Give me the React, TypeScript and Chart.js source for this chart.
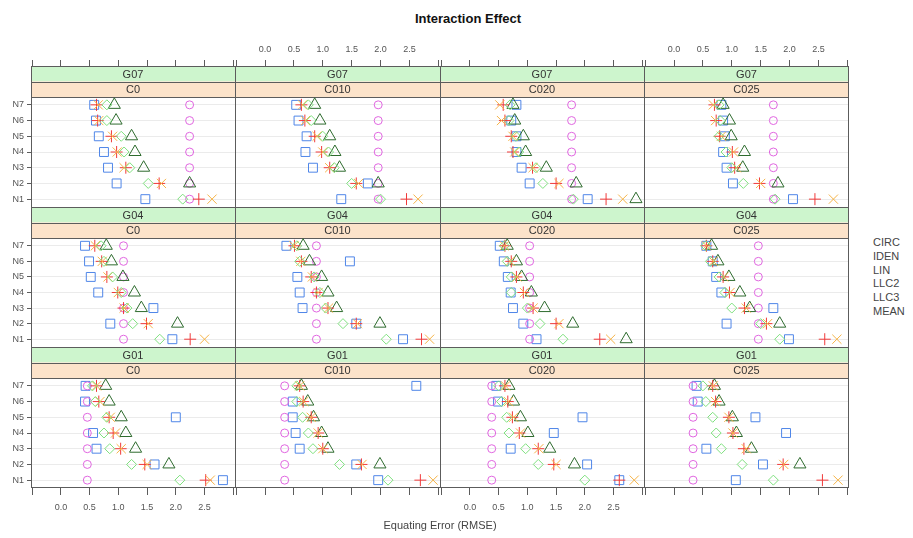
import React, { useEffect, useRef } from "react";
import { Chart, registerables } from "chart.js";
Chart.register(...registerables);

// ---------- categories ----------
const GROUPS = ["G07", "G04", "G01"];
const CONDITIONS = ["C0", "C010", "C020", "C025"];
const LEVELS = ["N1", "N2", "N3", "N4", "N5", "N6", "N7"];
const SERIES = ["CIRC", "IDEN", "LIN", "LLC2", "LLC3", "MEAN"];
const X_TICKS = [-0.5, 0, 0.5, 1, 1.5, 2, 2.5, 3];
const X_LABELED = [0, 0.5, 1, 1.5, 2, 2.5];

// ---------- values: rows = C0, C010, C020, C025 ; columns = N1..N7 ----------
const CIRC_G07 = [
  [1.47, 0.97, 0.82, 0.75, 0.66, 0.61, 0.58],
  [1.32, 1.78, 0.83, 0.70, 0.72, 0.58, 0.54],
  [2.05, 1.04, 0.90, 0.81, 0.81, 0.72, 0.81],
  [2.06, 1.02, 0.91, 0.85, 0.88, 0.85, 0.82],
];
const IDEN_G07 = [
  [2.24, 2.24, 2.24, 2.24, 2.24, 2.24, 2.24],
  [1.96, 1.96, 1.96, 1.96, 1.96, 1.96, 1.96],
  [1.77, 1.77, 1.77, 1.77, 1.77, 1.77, 1.77],
  [1.72, 1.72, 1.72, 1.72, 1.72, 1.72, 1.72],
];
const LIN_G07 = [
  [3.2, 2.24, 1.44, 1.29, 1.23, 0.96, 0.93],
  [3.2, 1.96, 1.29, 1.21, 1.12, 0.95, 0.86],
  [2.89, 1.85, 1.33, 0.97, 0.93, 0.78, 0.75],
  [3.2, 1.80, 1.19, 1.22, 0.99, 0.96, 0.85],
];
const LLC2_G07 = [
  [2.40, 1.71, 1.13, 0.97, 0.88, 0.64, 0.62],
  [2.45, 1.58, 1.12, 0.98, 0.86, 0.69, 0.63],
  [2.37, 1.50, 1.09, 0.75, 0.72, 0.61, 0.58],
  [2.44, 1.48, 1.05, 1.01, 0.79, 0.73, 0.70],
];
const LLC3_G07 = [
  [2.63, 1.75, 1.10, 0.98, 0.90, 0.66, 0.65],
  [2.65, 1.62, 1.12, 1.00, 0.90, 0.70, 0.65],
  [2.66, 1.55, 1.10, 0.78, 0.75, 0.55, 0.52],
  [2.76, 1.50, 1.08, 1.03, 0.82, 0.72, 0.68],
];
const MEAN_G07 = [
  [2.12, 1.52, 1.20, 1.10, 1.05, 0.80, 0.80],
  [2.00, 1.50, 1.20, 1.10, 1.00, 0.80, 0.75],
  [1.80, 1.27, 1.15, 0.85, 0.80, 0.68, 0.70],
  [1.75, 1.20, 1.00, 0.90, 0.78, 0.80, 0.78],
];

const CIRC_G04 = [
  [1.94, 0.86, 1.61, 0.65, 0.52, 0.49, 0.42],
  [2.39, 1.58, 0.65, 0.60, 0.56, 1.47, 0.37],
  [1.16, 0.93, 0.75, 0.71, 0.66, 0.59, 0.52],
  [1.99, 0.91, 1.72, 0.82, 0.73, 0.67, 0.56],
];
const IDEN_G04 = [
  [1.09, 1.09, 1.09, 1.09, 1.09, 1.09, 1.09],
  [0.89, 0.89, 0.89, 0.89, 0.89, 0.89, 0.89],
  [1.04, 1.04, 1.04, 1.04, 1.04, 1.04, 1.04],
  [1.46, 1.46, 1.46, 1.46, 1.46, 1.46, 1.46],
];
const LIN_G04 = [
  [3.2, 2.03, 1.40, 1.28, 1.08, 0.88, 0.79],
  [3.2, 1.99, 1.24, 1.09, 0.98, 0.77, 0.66],
  [2.72, 1.79, 1.30, 1.07, 0.90, 0.81, 0.65],
  [3.2, 1.83, 1.31, 1.14, 0.95, 0.76, 0.65],
];
const LLC2_G04 = [
  [2.25, 1.49, 1.09, 0.99, 0.80, 0.71, 0.59],
  [2.71, 1.58, 1.09, 0.89, 0.80, 0.63, 0.51],
  [2.26, 1.50, 1.10, 0.93, 0.81, 0.72, 0.61],
  [2.61, 1.60, 1.22, 0.96, 0.85, 0.67, 0.56],
];
const LLC3_G04 = [
  [2.50, 1.52, 1.10, 1.00, 0.82, 0.72, 0.60],
  [2.85, 1.60, 1.10, 0.92, 0.82, 0.62, 0.50],
  [2.45, 1.55, 1.10, 0.95, 0.82, 0.70, 0.60],
  [2.82, 1.62, 1.25, 0.97, 0.86, 0.68, 0.56],
];
const MEAN_G04 = [
  [1.72, 1.25, 1.15, 1.05, 0.90, 0.75, 0.70],
  [2.10, 1.35, 1.05, 0.95, 0.85, 0.60, 0.55],
  [1.62, 1.22, 1.00, 0.72, 0.72, 0.65, 0.60],
  [1.83, 1.50, 1.00, 0.88, 0.78, 0.63, 0.55],
];

const CIRC_G01 = [
  [2.82, 1.63, 0.62, 0.56, 2.00, 0.42, 0.43],
  [1.96, 1.58, 0.60, 0.53, 0.48, 0.48, 2.62],
  [2.60, 2.04, 0.71, 1.46, 1.96, 0.49, 0.46],
  [1.07, 1.54, 0.56, 1.94, 1.41, 0.41, 0.39],
];
const IDEN_G01 = [
  [0.46, 0.46, 0.46, 0.46, 0.46, 0.46, 0.46],
  [0.34, 0.34, 0.34, 0.34, 0.34, 0.34, 0.34],
  [0.38, 0.38, 0.38, 0.38, 0.38, 0.38, 0.38],
  [0.33, 0.33, 0.33, 0.33, 0.33, 0.33, 0.33],
];
const LIN_G01 = [
  [3.2, 1.88, 1.30, 1.13, 1.05, 0.84, 0.78],
  [3.2, 1.99, 1.09, 0.98, 0.84, 0.74, 0.63],
  [3.2, 1.82, 1.39, 1.01, 0.88, 0.76, 0.68],
  [3.2, 2.18, 1.34, 1.08, 1.01, 0.78, 0.70],
];
const LLC2_G01 = [
  [2.52, 1.46, 1.04, 0.91, 0.84, 0.66, 0.62],
  [2.69, 1.67, 1.00, 0.92, 0.80, 0.66, 0.60],
  [2.60, 1.46, 1.19, 0.86, 0.74, 0.66, 0.61],
  [2.57, 1.89, 1.21, 1.02, 0.95, 0.72, 0.67],
];
const LLC3_G01 = [
  [2.60, 1.50, 1.05, 0.95, 0.86, 0.68, 0.62],
  [2.91, 1.68, 1.00, 0.92, 0.80, 0.67, 0.60],
  [2.86, 1.50, 1.20, 0.88, 0.76, 0.67, 0.62],
  [2.84, 1.90, 1.25, 1.02, 0.95, 0.72, 0.68],
];
const MEAN_G01 = [
  [2.07, 1.23, 0.85, 0.75, 0.80, 0.60, 0.55],
  [2.13, 1.29, 0.83, 0.75, 0.65, 0.55, 0.55],
  [2.00, 1.19, 0.97, 0.68, 0.64, 0.55, 0.50],
  [1.72, 1.18, 0.82, 0.73, 0.67, 0.55, 0.50],
];

// series -> group -> condition -> level
const SERIES_DATA = [
  [CIRC_G07, CIRC_G04, CIRC_G01],
  [IDEN_G07, IDEN_G04, IDEN_G01],
  [LIN_G07, LIN_G04, LIN_G01],
  [LLC2_G07, LLC2_G04, LLC2_G01],
  [LLC3_G07, LLC3_G04, LLC3_G01],
  [MEAN_G07, MEAN_G04, MEAN_G01],
];

// ---------- styles ----------
const STYLES = [
  { color: "#4f86e8", shape: "rect", radius: 6.3 },
  { color: "#e066e0", shape: "circle", radius: 4 },
  { color: "#2e6b2e", shape: "triangle", radius: 7 },
  { color: "#f03a3a", shape: "cross", radius: 6 },
  { color: "#f5b347", shape: "crossRot", radius: 6.5 },
  { color: "#7ee07e", shape: "rectRot", radius: 5 },
];

const FONT = "'Liberation Sans', Arial, sans-serif";
const COL_L = [31, 235, 440, 644];
const COL_R = [235, 440, 644, 849];
const ROW_T = [66, 207, 347];
const ROW_B = [207, 347, 488];
const STRIP_H = 31;
const TOP_AXIS_H = 36;
const BOTTOM_AXIS_H = 32;
const LEFT_AXIS_W = 31;
const X_MIN = -0.52;
const X_MAX = 3.03;

const zeroPad = (s: any) => {
  s.paddingLeft = 0;
  s.paddingRight = 0;
  s.paddingTop = 0;
  s.paddingBottom = 0;
};

const framePlugin = {
  id: "latticeFrame",
  beforeDatasetsDraw(chart: any, _args: any, opts: any) {
    const { ctx, chartArea: a } = chart;
    const half = opts.stripH / 2;
    ctx.save();
    ctx.fillStyle = "#cdf5cd";
    ctx.fillRect(a.left, a.top, a.right - a.left, half);
    ctx.fillStyle = "#fce3ca";
    ctx.fillRect(a.left, a.top + half, a.right - a.left, half);
    ctx.strokeStyle = "#5c5c5c";
    ctx.lineWidth = 1;
    ctx.beginPath();
    const hl = (y: number) => {
      const yy = Math.round(y) + 0.5;
      ctx.moveTo(a.left, yy);
      ctx.lineTo(a.right, yy);
    };
    hl(a.top);
    hl(a.top + half);
    hl(a.top + opts.stripH);
    if (opts.lastRow) hl(a.bottom - 1);
    ctx.moveTo(a.left + 0.5, a.top);
    ctx.lineTo(a.left + 0.5, a.bottom);
    if (opts.lastCol) {
      ctx.moveTo(a.right - 0.5, a.top);
      ctx.lineTo(a.right - 0.5, a.bottom);
    }
    ctx.stroke();
    ctx.restore();
  },
};

function Panel({ r, c }: { r: number; c: number }) {
  const ref = useRef<HTMLCanvasElement>(null);
  const isTop = r === 0;
  const isBottom = r === 2;
  const isLeft = c === 0;
  const isRight = c === 3;
  const left = isLeft ? 0 : COL_L[c];
  const top = isTop ? ROW_T[0] - TOP_AXIS_H : ROW_T[r];
  const right = COL_R[c];
  const bottom = isBottom ? ROW_B[2] + BOTTOM_AXIS_H : ROW_B[r];
  const w = right - left;
  const h = bottom - top;

  useEffect(() => {
    const rowH = ROW_B[r] - ROW_T[r];
    const plotH = rowH - STRIP_H;
    const yMax = 7.5 + (STRIP_H * 7) / plotH;
    const showXLabels = (isTop && c % 2 === 1) || (isBottom && c % 2 === 0);
    const datasets = SERIES.map((name, si) => ({
      label: name,
      data: SERIES_DATA[si][r][c].map((v, i) => ({ x: v, y: i + 1 })),
      pointStyle: STYLES[si].shape,
      pointRadius: STYLES[si].radius,
      pointBorderColor: STYLES[si].color,
      pointBackgroundColor: "rgba(0,0,0,0)",
      pointBorderWidth: 1,
      showLine: false,
      clip: 0,
      order: SERIES.length - si,
    }));
    const chart = new Chart(ref.current as HTMLCanvasElement, {
      type: "scatter",
      data: { datasets } as any,
      options: {
        animation: false,
        responsive: false,
        devicePixelRatio: 1,
        events: [],
        layout: { padding: 0, autoPadding: false },
        plugins: {
          legend: { display: false },
          tooltip: { enabled: false },
          latticeFrame: { stripH: STRIP_H, lastRow: isBottom, lastCol: isRight },
        } as any,
        scales: {
          x: {
            type: "linear",
            position: isTop ? "top" : "bottom",
            display: isTop || isBottom,
            min: X_MIN,
            max: X_MAX,
            afterBuildTicks: (s: any) => {
              s.ticks = X_TICKS.map((v) => ({ value: v }));
            },
            afterFit: (s: any) => {
              if (isTop) s.height = TOP_AXIS_H;
              else if (isBottom) s.height = BOTTOM_AXIS_H;
              zeroPad(s);
            },
            grid: {
              drawOnChartArea: false,
              drawTicks: true,
              tickLength: isTop ? 6 : 7,
              tickColor: "#5c5c5c",
              color: "#5c5c5c",
            },
            border: { display: false },
            ticks: {
              autoSkip: false,
              maxRotation: 0,
              padding: isTop ? 5 : 7,
              color: "#555",
              font: { family: FONT, size: 9 },
              callback: (v: any) =>
                showXLabels && X_LABELED.includes(Number(v)) ? Number(v).toFixed(1) : "",
            },
          },
          y: {
            type: "linear",
            position: "left",
            min: 0.5,
            max: yMax,
            afterBuildTicks: (s: any) => {
              s.ticks = LEVELS.map((_, i) => ({ value: i + 1 }));
            },
            afterFit: (s: any) => {
              s.width = isLeft ? LEFT_AXIS_W : 0;
              zeroPad(s);
            },
            grid: {
              color: "#ebebeb",
              drawTicks: isLeft,
              tickLength: 4,
              tickColor: "#5c5c5c",
            },
            border: { display: false },
            ticks: {
              display: isLeft,
              autoSkip: false,
              padding: 3,
              color: "#555",
              font: { family: FONT, size: 9 },
              callback: (v: any) => LEVELS[Number(v) - 1] ?? "",
            },
          },
        } as any,
      },
      plugins: [framePlugin as any],
    });
    return () => chart.destroy();
  }, []);

  return (
    <canvas
      ref={ref}
      width={w}
      height={h}
      style={{ position: "absolute", left, top, width: w, height: h }}
    />
  );
}

export default function App() {
  const panels: React.ReactNode[] = [];
  const strips: React.ReactNode[] = [];
  GROUPS.forEach((g, r) => {
    CONDITIONS.forEach((cond, c) => {
      panels.push(<Panel key={`p${r}${c}`} r={r} c={c} />);
      const stripStyle: React.CSSProperties = {
        position: "absolute",
        left: COL_L[c],
        width: COL_R[c] - COL_L[c],
        height: STRIP_H / 2,
        lineHeight: `${STRIP_H / 2}px`,
        textAlign: "center",
        fontSize: 11,
        color: "#333",
        pointerEvents: "none",
      };
      strips.push(
        <div key={`g${r}${c}`} style={{ ...stripStyle, top: ROW_T[r] + 0.5 }}>
          {g}
        </div>
      );
      strips.push(
        <div key={`c${r}${c}`} style={{ ...stripStyle, top: ROW_T[r] + STRIP_H / 2 + 0.5 }}>
          {cond}
        </div>
      );
    });
  });

  return (
    <div
      style={{
        position: "fixed",
        left: 0,
        top: 0,
        width: 913,
        height: 538,
        background: "#fff",
        fontFamily: FONT,
        overflow: "hidden",
      }}
    >
      <div
        style={{
          position: "absolute",
          left: 368,
          width: 200,
          top: 11,
          textAlign: "center",
          fontWeight: "bold",
          fontSize: 13,
          color: "#111",
        }}
      >
        Interaction Effect
      </div>
      {panels}
      {strips}
      <div
        style={{
          position: "absolute",
          left: 340,
          width: 200,
          top: 519,
          textAlign: "center",
          fontSize: 11,
          color: "#444",
        }}
      >
        Equating Error (RMSE)
      </div>
      <div style={{ position: "absolute", left: 873, top: 236, fontSize: 11, color: "#444", lineHeight: "13.8px" }}>
        {SERIES.map((s) => (
          <div key={s}>{s}</div>
        ))}
      </div>
    </div>
  );
}
